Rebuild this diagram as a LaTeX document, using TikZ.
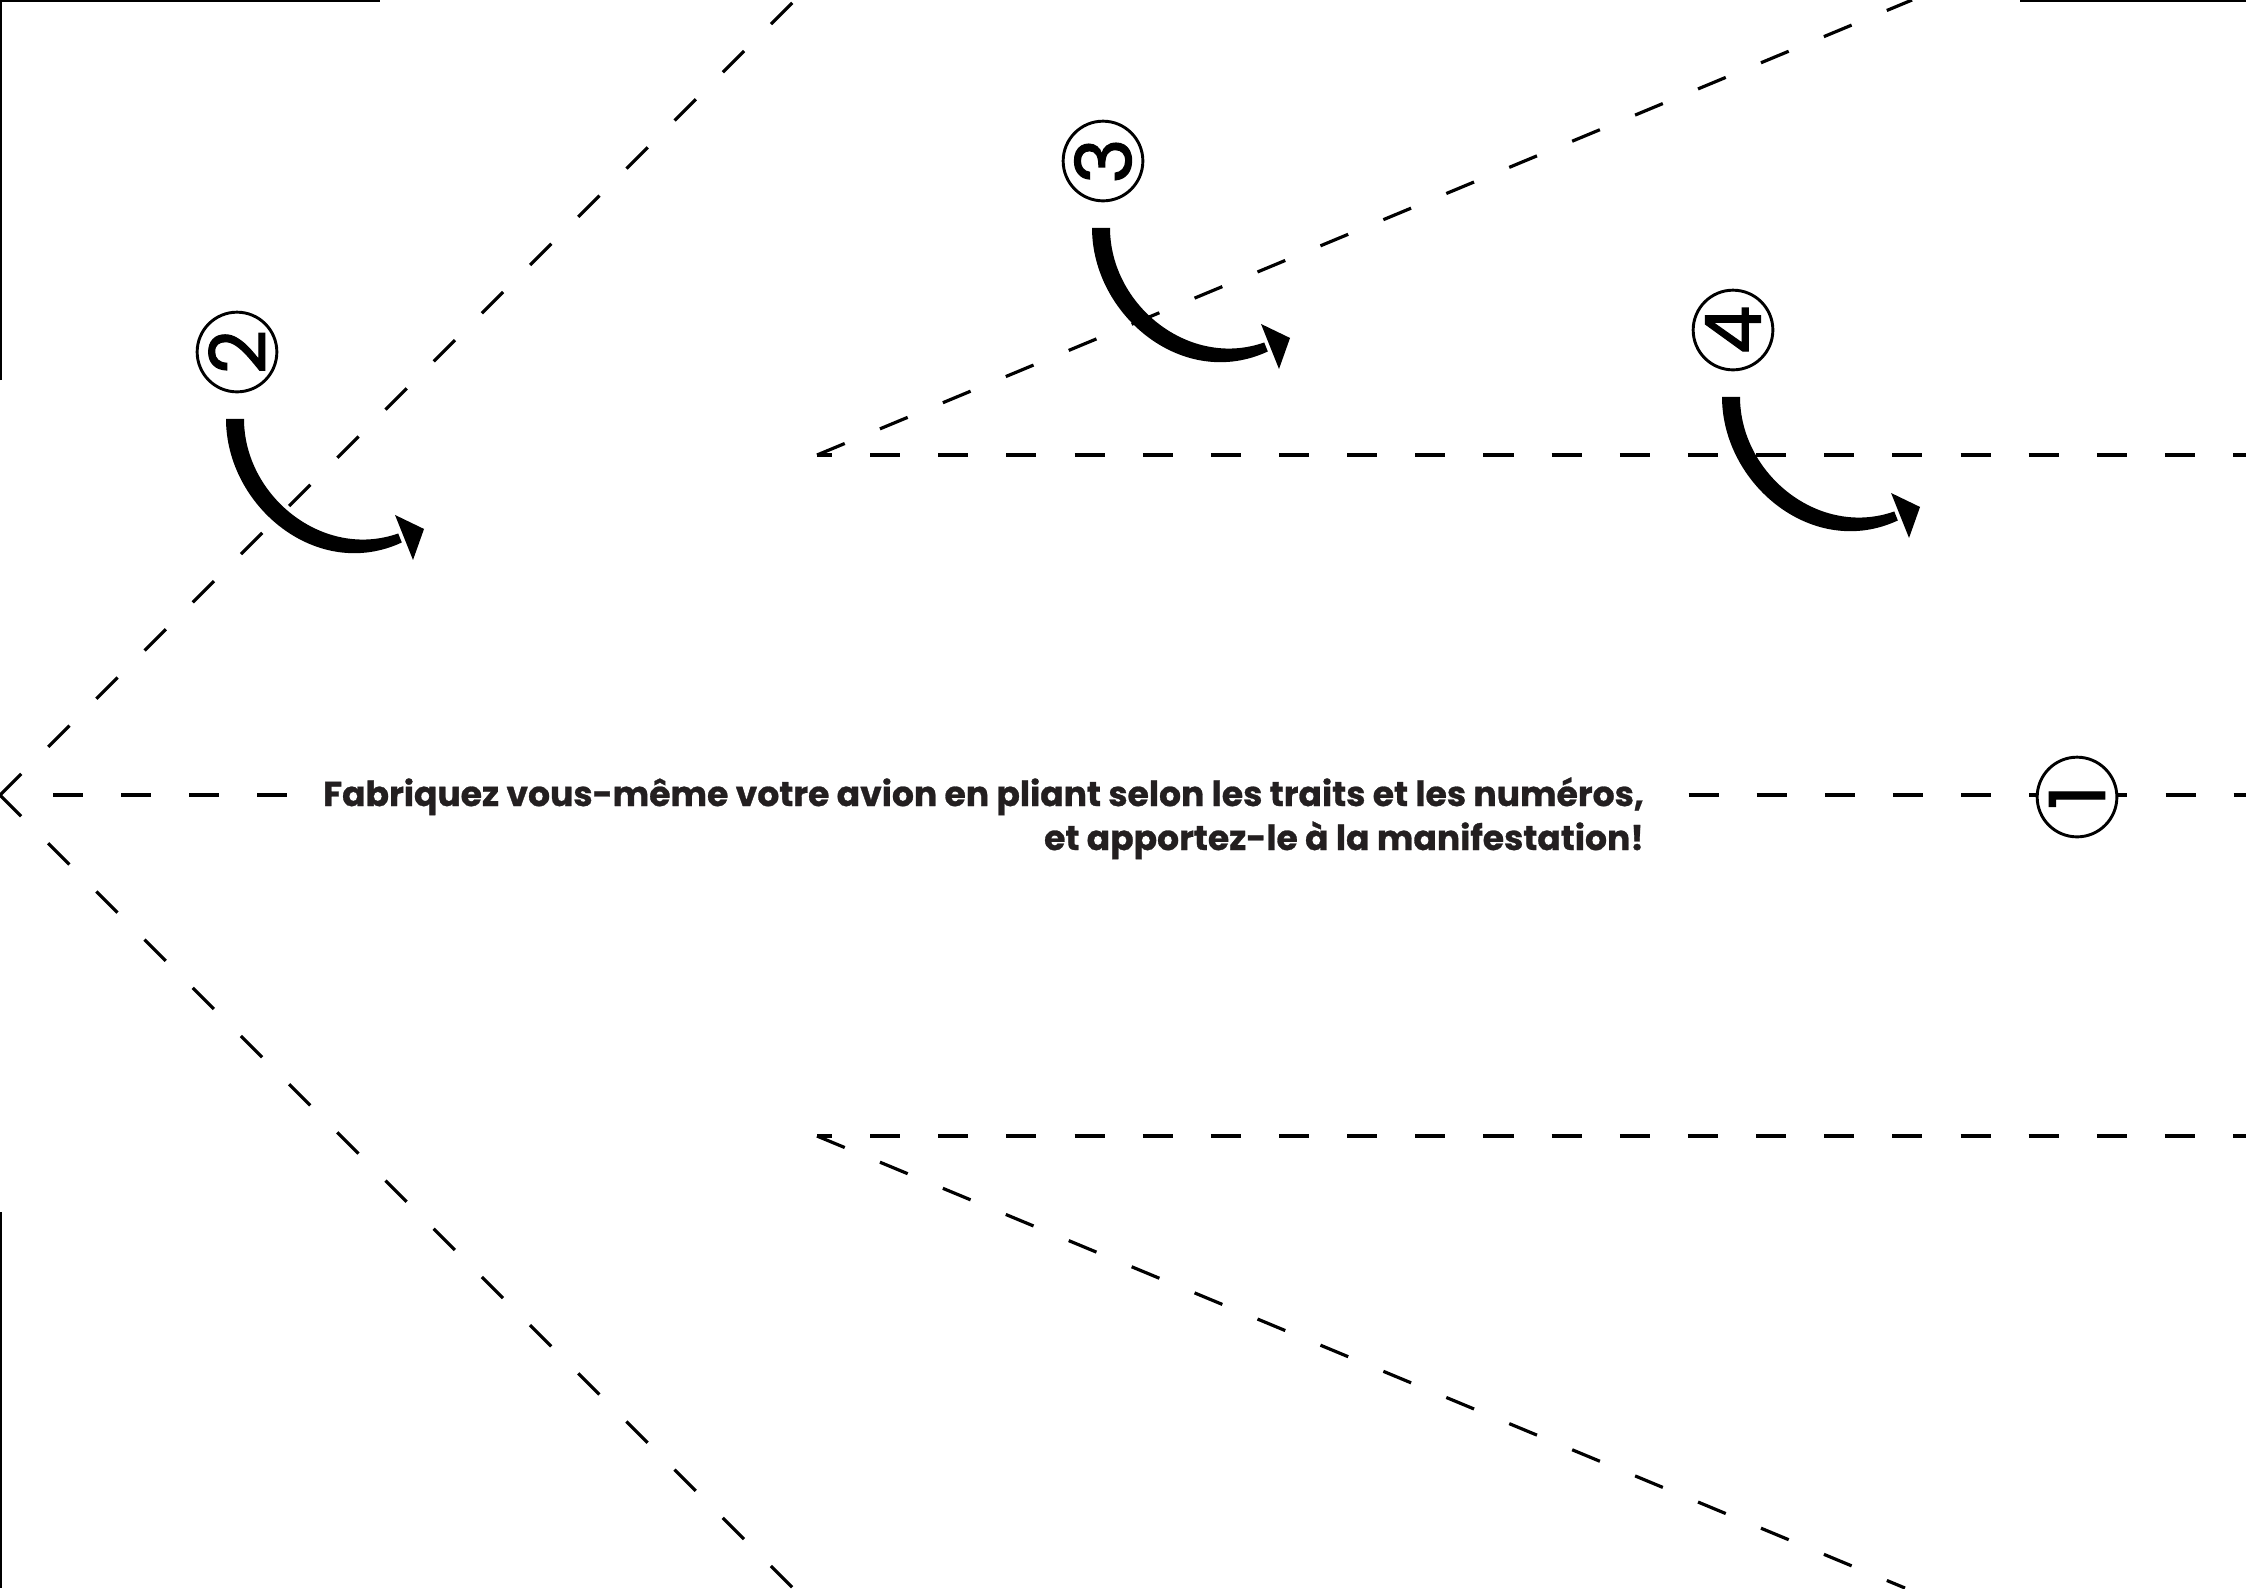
\documentclass[tikz,border=0pt]{standalone}
\usepackage{fontspec}
\setmainfont{Poppins}[BoldFeatures={FakeBold=0.8}]
\newfontfamily\digitfont{Poppins}[FakeBold=1.5]
\definecolor{ink}{HTML}{231F20}

\begin{document}
\begin{tikzpicture}[x=0.0132235cm, y=-0.0132235cm,
  fold/.style={line width=1.2pt, dash pattern=on 11.3pt off 14.35pt},
  crop/.style={line width=0.8pt},
  stepnum/.style={circle, draw, line width=1.1pt, minimum size=30pt, inner sep=0pt, fill=white, rotate=90, font=\digitfont\fontsize{29}{29}\selectfont},
  msg/.style={align=right, fill=white, inner sep=4pt, text=ink, font=\bfseries\fontsize{13}{16.55}\selectfont},
  foldarrow/.pic={
    \fill (-9,0) .. controls (-9,87) and (82,163) .. (166.8,123.5) -- (163.2,114.5) .. controls (88,141) and (9,77) .. (9,0) -- cycle;
    \fill (160,96) -- (189,110) -- (178,141) -- cycle;}]
\useasboundingbox (0,0) rectangle (2246,1588);
\coordinate (nose) at (0,795);
\coordinate (wingtop) at (817,455);
\coordinate (wingbot) at (817,1136);
\draw[crop] (1,380) |- (380,1);
\draw[crop] (2020,1) -- (2246,1);
\draw[crop] (1,1212) -- (1,1588);
\draw[fold] (nose) -- (795,0);
\draw[fold] (nose) -- (793,1588);
\draw[fold] (53,795) -- (2246,795);
\draw[fold] (wingtop) -- (1912,0);
\draw[fold, dash phase=5.64pt] (wingtop) -- (2246,455);
\draw[fold] (wingbot) -- (1905,1588);
\draw[fold, dash phase=5.64pt] (wingbot) -- (2246,1136);
\node[stepnum] (s1) at (2077,797) {1};
\node[stepnum] (s2) at (237,352) {2};
\node[stepnum] (s3) at (1103,161) {3};
\node[stepnum] (s4) at (1733,330) {4};
\node[msg, anchor=base east] (msg) at (1655,850) {Fabriquez vous-même votre avion en pliant selon les traits et les numéros,\\et apportez-le à la manifestation!};
\foreach \s in {s2,s3,s4} \pic at ([xshift=-0.75pt,yshift=-25.2pt]\s.center) {foldarrow};
\end{tikzpicture}
\end{document}
